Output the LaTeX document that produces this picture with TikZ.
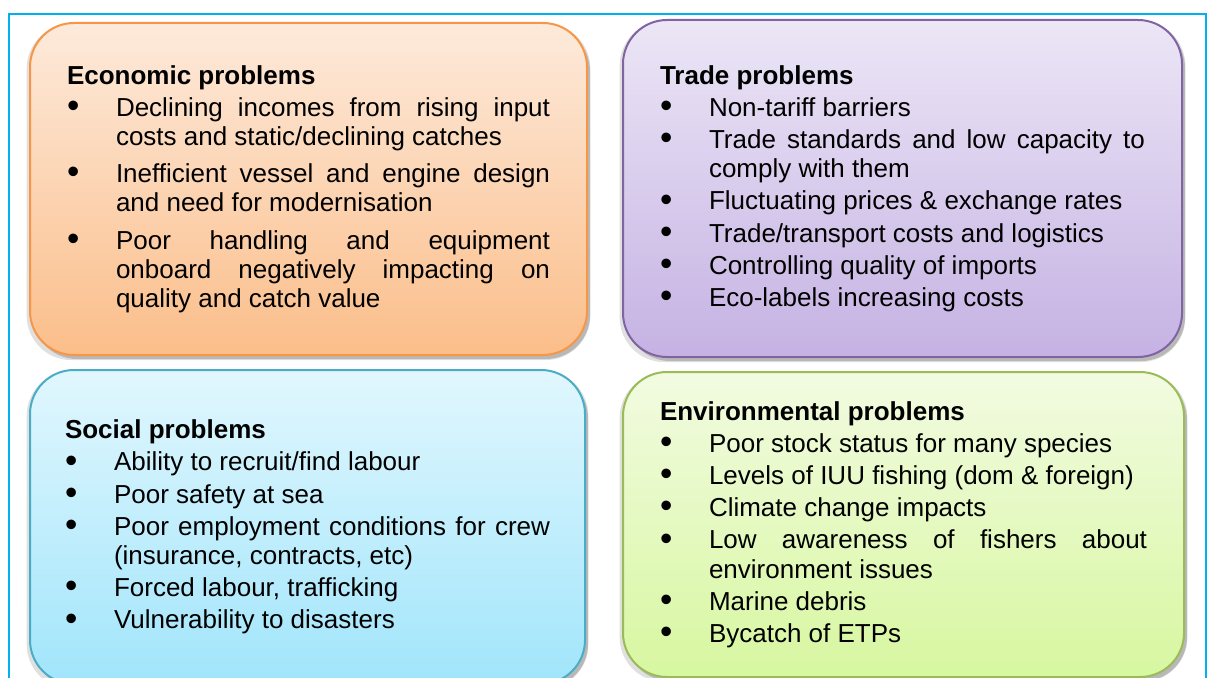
\documentclass[tikz,border=0pt]{standalone}
\usepackage{fontspec}
\setmainfont{Liberation Sans}[WordSpace={1,6,0}]
\usepackage{xcolor}
\usepackage{graphicx}
\usepackage{enumitem}
\usepackage{tikz}
\usetikzlibrary{shadows}

\definecolor{framecyan}{HTML}{00B0F0}
\definecolor{econline}{HTML}{F79646}
\definecolor{econtop}{HTML}{FDEADB}
\definecolor{econbot}{HTML}{FBBE8A}
\definecolor{tradeline}{HTML}{8064A2}
\definecolor{tradetop}{HTML}{ECE6F6}
\definecolor{tradebot}{HTML}{C5B2E3}
\definecolor{socline}{HTML}{4BACC6}
\definecolor{soctop}{HTML}{E1F7FE}
\definecolor{socbot}{HTML}{A1E5FB}
\definecolor{envline}{HTML}{9BBB59}
\definecolor{envtop}{HTML}{F2FBE1}
\definecolor{envbot}{HTML}{D7F7A0}

\newcommand{\probbullet}{\raisebox{-0.1ex}{\scalebox{1.35}{\textbullet}}}

\setlength{\parindent}{0pt}
\hyphenpenalty=10000
\exhyphenpenalty=10000
\tolerance=9999
\setlist[itemize]{label=\probbullet, leftmargin=24.5pt, labelindent=0pt,
  labelwidth=24.5pt, labelsep=0pt, align=left, topsep=1.5pt, partopsep=0pt,
  parsep=0pt, itemsep=1.5pt}

\begin{document}
\begin{tikzpicture}[
            x=0.5pt, y=-0.5pt,
            font=\fontsize{13}{14.6}\selectfont,
            probbox/.style={rectangle, rounded corners=22pt, line width=1pt, align=justify,
                inner xsep=18.5pt, inner ysep=0pt, anchor=center,
                general shadow={fill=black, opacity=0.12, shadow scale=1.012, shadow yshift=-1.5pt},
                drop shadow={fill=black, opacity=0.18, shadow xshift=1.5pt, shadow yshift=-2pt}},
            econ/.style={probbox, draw=econline, top color=econtop, bottom color=econbot,
                text width=241.5pt, minimum width=278.5pt, minimum height=166pt},
            trade/.style={probbox, draw=tradeline, top color=tradetop, bottom color=tradebot,
                text width=242.5pt, minimum width=279.5pt, minimum height=168.5pt},
            social/.style={probbox, draw=socline, top color=soctop, bottom color=socbot,
                inner xsep=17.5pt, text width=242.5pt, minimum width=277.5pt, minimum height=157pt},
            enviro/.style={probbox, draw=envline, top color=envtop, bottom color=envbot,
                text width=243.5pt, minimum width=280.5pt, minimum height=152.5pt}
        ]
            \clip (0,0) rectangle (1208,678);
            \useasboundingbox (0,0) rectangle (1208,678);

            % Frame
            \node[draw=framecyan, line width=1pt, inner sep=0pt, minimum width=598.5pt,
                minimum height=340pt, anchor=north west] (frame) at (8,13) {};

            % Nodes
            \node[econ] (economic) at (308.5,189) {%
                \textbf{Economic problems}
                \begin{itemize}[itemsep=4pt]
                    \item Declining incomes from rising input costs and static/declining catches
                    \item Inefficient vessel and engine design and need for modernisation
                    \item Poor handling and equipment onboard negatively impacting on quality and catch value
                \end{itemize}};
            \node[trade] (trade) at (902.5,188.5) {%
                \textbf{Trade problems}
                \begin{itemize}
                    \item Non-tariff barriers
                    \item Trade standards and low capacity to comply with them
                    \item Fluctuating prices \& exchange rates
                    \item Trade/transport costs and logistics
                    \item Controlling quality of imports
                    \item Eco-labels increasing costs
                \end{itemize}};
            \node[social] (social) at (307.5,527) {%
                \textbf{Social problems}
                \begin{itemize}
                    \item Ability to recruit/find labour
                    \item Poor safety at sea
                    \item Poor employment conditions for crew (insurance, contracts, etc)
                    \item Forced labour, trafficking
                    \item Vulnerability to disasters
                \end{itemize}};
            \node[enviro] (environmental) at (903.5,524.5) {%
                \textbf{Environmental problems}
                \begin{itemize}
                    \item Poor stock status for many species
                    \item Levels of IUU fishing (dom \& foreign)
                    \item Climate change impacts
                    \item Low awareness of fishers about environment issues
                    \item Marine debris
                    \item Bycatch of ETPs
                \end{itemize}};
        \end{tikzpicture}
\end{document}
